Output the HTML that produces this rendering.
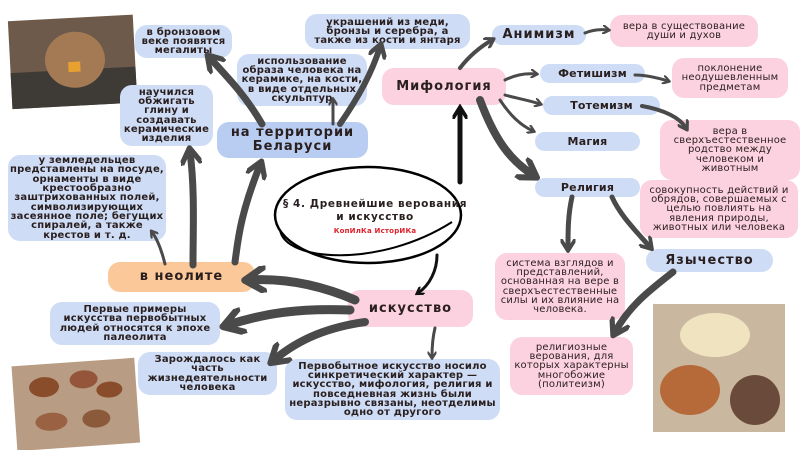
<!DOCTYPE html>
<html><head><meta charset="utf-8"><style>
*{margin:0;padding:0;box-sizing:border-box}
body{width:800px;height:450px;background:#fff;position:relative;overflow:hidden;font-family:"DejaVu Sans","Liberation Sans",sans-serif;color:#2a1f1f}
.b{position:absolute;display:flex;align-items:center;justify-content:center;text-align:center;border-radius:12px;font-weight:bold;font-size:10px;line-height:9.3px;letter-spacing:.2px;white-space:nowrap}
.bl{background:#cedcf5}.pk{background:#fcd1e0;font-weight:normal}.or{background:#fbc899}
.h{font-size:13px;line-height:14px;letter-spacing:1px}
svg{position:absolute;left:0;top:0}
#fg{z-index:2}
</style></head><body>
<svg width="800" height="450" viewBox="0 0 800 450">
<g transform="rotate(-3 70 60)"><rect x="10" y="18" width="125" height="88" fill="#6d5a4a"/><rect x="10" y="70" width="125" height="36" fill="#3e3a36"/><ellipse cx="75" cy="60" rx="30" ry="28" fill="#a47a55"/><rect x="68" y="62" width="12" height="10" fill="#e8a030"/></g>
<g transform="rotate(-4 75 400)"><rect x="14" y="362" width="123" height="85" fill="#b89d84"/><ellipse cx="45" cy="385" rx="15" ry="10" fill="#8a4d2c"/><ellipse cx="85" cy="380" rx="14" ry="9" fill="#94553a"/><ellipse cx="110" cy="392" rx="13" ry="8" fill="#8a4d2c"/><ellipse cx="50" cy="420" rx="16" ry="9" fill="#9a6242"/><ellipse cx="95" cy="420" rx="14" ry="9" fill="#8a5a3a"/></g>
<rect x="653" y="304" width="132" height="128" fill="#c9b7a0"/><ellipse cx="715" cy="335" rx="35" ry="22" fill="#efe3c0"/><ellipse cx="690" cy="390" rx="30" ry="25" fill="#b66a3a"/><ellipse cx="755" cy="400" rx="25" ry="25" fill="#6a4a3a"/>
<ellipse cx="368" cy="215" rx="93" ry="48" fill="#fff" stroke="#000" stroke-width="2.5"/>
<path d="M280 230 C285 262 380 268 452 222" fill="none" stroke="#000" stroke-width="2"/>
</svg>
<svg id="fg" width="800" height="450" viewBox="0 0 800 450">
<defs>
<marker id="a" viewBox="0 0 10 10" refX="6" refY="5" markerWidth="3" markerHeight="3" orient="auto"><path d="M0 0L8 5L0 10" fill="none" stroke="#4a4a4a" stroke-width="2.5" stroke-linecap="round" stroke-linejoin="round"/></marker>
<marker id="k" viewBox="0 0 10 10" refX="6" refY="5" markerWidth="3" markerHeight="3" orient="auto"><path d="M0 0L8 5L0 10" fill="none" stroke="#111" stroke-width="2.5" stroke-linecap="round"/></marker>
</defs>
<g fill="none" stroke="#4a4a4a" stroke-linecap="round" marker-end="url(#a)">
<path d="M262 124 C245 95 230 80 210 58" stroke-width="7"/>
<path d="M333 124 C333 115 333 107 333 100" stroke-width="3"/>
<path d="M340 124 C360 95 372 72 380 47" stroke-width="6"/>
<path d="M235 262 C238 240 240 215 260 165" stroke-width="7"/>
<path d="M193 265 C193 230 195 190 190 152" stroke-width="7"/>
<path d="M165 264 C162 252 158 240 152 232" stroke-width="3"/>
<path d="M437 255 C437 270 430 285 418 293" stroke-width="3" stroke="#111" marker-end="url(#k)"/>
<path d="M355 300 C320 285 285 278 250 280" stroke-width="9"/>
<path d="M350 310 C300 308 265 313 228 325" stroke-width="9"/>
<path d="M365 322 C330 327 300 338 274 360" stroke-width="8"/>
<path d="M435 328 C432 340 432 350 432 357" stroke-width="3"/>
<path d="M460 68 C470 55 480 47 492 40" stroke-width="4"/>
<path d="M585 33 C592 30 600 29 608 30" stroke-width="3"/>
<path d="M505 80 C515 75 525 73 536 74" stroke-width="3"/>
<path d="M635 75 C645 75 655 77 668 81" stroke-width="3"/>
<path d="M505 95 C515 98 528 100 540 104" stroke-width="3"/>
<path d="M642 106 C665 110 680 118 686 128" stroke-width="4"/>
<path d="M500 100 C510 115 520 125 533 131" stroke-width="3"/>
<path d="M480 100 C495 140 510 160 533 175" stroke-width="8"/>
<path d="M572 197 C568 215 568 230 568 248" stroke-width="5"/>
<path d="M612 197 C620 215 635 230 650 247" stroke-width="5"/>
<path d="M673 272 C650 290 630 305 615 332" stroke-width="7"/>
</g>
<path d="M460 182 C460 160 460 135 460 110" fill="none" stroke="#111" stroke-width="5" stroke-linecap="round" marker-end="url(#k)"/>
</svg>
<div class="b bl" style="left:135px;top:25px;width:97px;height:33px">в бронзовом<br>веке появятся<br>мегалиты</div>
<div class="b bl" style="left:305px;top:14px;width:165px;height:35px">украшений из меди,<br>бронзы и серебра, а<br>также из кости и янтаря</div>
<div class="b bl" style="left:237px;top:54px;width:130px;height:52px">использование<br>образа человека на<br>керамике, на кости,<br>в виде отдельных<br>скульптур</div>
<div class="b bl" style="left:120px;top:85px;width:93px;height:61px">научился<br>обжигать<br>глину и<br>создавать<br>керамические<br>изделия</div>
<div class="b h" style="left:217px;top:122px;width:151px;height:36px;background:#b9cdf2">на территории<br>Беларуси</div>
<div class="b bl" style="left:8px;top:155px;width:158px;height:86px">у земледельцев<br>представлены на посуде,<br>орнаменты в виде<br>крестообразно<br>заштрихованных полей,<br>символизирующих<br>засеянное поле; бегущих<br>спиралей, а также<br>крестов и т. д.</div>
<div class="b" style="left:290px;top:196px;width:170px;height:30px;font-size:10.5px;line-height:13px;letter-spacing:.6px;background:none;z-index:3">§ 4. Древнейшие верования<br>и искусство</div>
<div class="b" style="left:330px;top:227px;width:90px;height:10px;font-size:7px;color:#e0202a;background:none;z-index:3">КопИлКа ИсторИКа</div>
<div class="b or h" style="left:108px;top:262px;width:147px;height:30px">в неолите</div>
<div class="b pk h" style="left:348px;top:290px;width:125px;height:37px;font-weight:bold">искусство</div>
<div class="b bl" style="left:50px;top:302px;width:170px;height:43px">Первые примеры<br>искусства первобытных<br>людей относятся к эпохе<br>палеолита</div>
<div class="b bl" style="left:138px;top:352px;width:139px;height:43px">Зарождалось как<br>часть<br>жизнедеятельности<br>человека</div>
<div class="b bl" style="left:285px;top:359px;width:215px;height:61px">Первобытное искусство носило<br>синкретический характер —<br>искусство, мифология, религия и<br>повседневная жизнь были<br>неразрывно связаны, неотделимы<br>одно от другого</div>
<div class="b pk h" style="left:382px;top:68px;width:124px;height:37px;font-weight:bold">Мифология</div>
<div class="b bl h" style="left:492px;top:25px;width:94px;height:20px">Анимизм</div>
<div class="b pk" style="left:610px;top:15px;width:148px;height:32px">вера в существование<br>души и духов</div>
<div class="b bl" style="left:540px;top:64px;width:105px;height:19px;font-size:11px">Фетишизм</div>
<div class="b pk" style="left:672px;top:58px;width:116px;height:40px">поклонение<br>неодушевленным<br>предметам</div>
<div class="b bl" style="left:543px;top:96px;width:117px;height:19px;font-size:11px">Тотемизм</div>
<div class="b bl" style="left:535px;top:132px;width:105px;height:19px;font-size:11px">Магия</div>
<div class="b pk" style="left:660px;top:120px;width:140px;height:60px">вера в<br>сверхъестественное<br>родство между<br>человеком и<br>животным</div>
<div class="b bl" style="left:535px;top:178px;width:105px;height:19px;font-size:11px">Религия</div>
<div class="b pk" style="left:640px;top:180px;width:158px;height:58px">совокупность действий и<br>обрядов, совершаемых с<br>целью повлиять на<br>явления природы,<br>животных или человека</div>
<div class="b bl h" style="left:646px;top:249px;width:127px;height:23px">Язычество</div>
<div class="b pk" style="left:495px;top:253px;width:130px;height:67px">система взглядов и<br>представлений,<br>основанная на вере в<br>сверхъестественные<br>силы и их влияние на<br>человека.</div>
<div class="b pk" style="left:510px;top:337px;width:123px;height:58px">религиозные<br>верования, для<br>которых характерны<br>многобожие<br>(политеизм)</div>
</body></html>
